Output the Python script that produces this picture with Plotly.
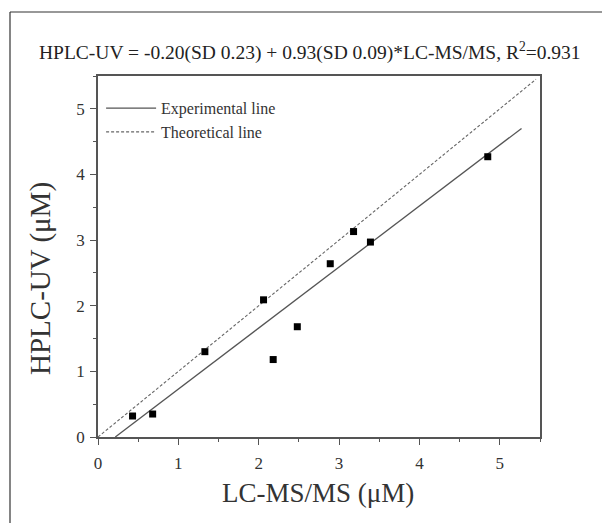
import plotly.graph_objects as go

lcms = [0.43, 0.68, 1.33, 2.06, 2.18, 2.48, 2.89, 3.18, 3.39, 4.85]
hplc = [0.32, 0.35, 1.30, 2.09, 1.18, 1.68, 2.64, 3.13, 2.97, 4.27]
intercept = -0.20
slope = 0.93
fit_x = [-intercept / slope, 5.27]
theo_x = [0.0, 5.45]

fit_y = [intercept + slope * v for v in fit_x]
theo_y = list(theo_x)

FONT = "Liberation Serif, Times New Roman, serif"
AX = "#555555"

fig = go.Figure()
fig.add_trace(go.Scatter(x=fit_x, y=fit_y, mode="lines", name="Experimental line",
                         line=dict(color="#555555", width=1.3)))
fig.add_trace(go.Scatter(x=theo_x, y=theo_y, mode="lines", name="Theoretical line",
                         line=dict(color="#666666", width=1.1, dash="3px,2px")))
fig.add_trace(go.Scatter(x=lcms, y=hplc, mode="markers", showlegend=False,
                         marker=dict(symbol="square", size=7, color="black")))

axis_common = dict(
    showgrid=False, zeroline=False, showline=True, linecolor=AX, linewidth=1.5,
    mirror=True, ticks="outside", ticklen=6, tickwidth=1.3, tickcolor=AX,
    tickfont=dict(family=FONT, size=17, color="#333333"), automargin=False,
    minor=dict(dtick=0.5, ticks="outside", ticklen=3, tickwidth=1.2, tickcolor=AX),
)

PW, PH = 442, 361
L, T = 90, 68

fig.update_layout(
    width=610, height=523,
    margin=dict(l=L, r=610 - L - PW, t=T, b=523 - T - PH),
    paper_bgcolor="white", plot_bgcolor="white",
    font=dict(family=FONT, color="#222222"),
    xaxis=dict(range=[0, 5.5], dtick=1, tick0=0, ticklabelstandoff=4, **axis_common),
    yaxis=dict(range=[0, 5.5], dtick=1, tick0=0, ticklabelstandoff=2, **axis_common),
    legend=dict(x=0.007, y=0.958, xanchor="left", yanchor="top", bgcolor="rgba(0,0,0,0)",
                font=dict(family=FONT, size=16, color="#333333"), itemwidth=50, tracegroupgap=0),
    showlegend=True,
    annotations=[
        dict(text="HPLC-UV = -0.20(SD 0.23) + 0.93(SD 0.09)*LC-MS/MS, R<sup>2</sup>=0.931",
             xref="paper", yref="paper", x=(302 - L) / PW, y=1 + (T - 44) / PH,
             xanchor="center", yanchor="middle", showarrow=False,
             font=dict(family=FONT, size=19.5, color="#222222")),
        dict(text="LC-MS/MS (\u03bcM)", xref="paper", yref="paper",
             x=(310 - L) / PW, y=-(485 - T - PH) / PH, xanchor="center", yanchor="middle",
             showarrow=False, font=dict(family=FONT, size=27, color="#333333")),
        dict(text="HPLC-UV (\u03bcM)", xref="paper", yref="paper", textangle=-90,
             x=(32 - L) / PW, y=1 - (271 - T) / PH, xanchor="center", yanchor="middle",
             showarrow=False, font=dict(family=FONT, size=29, color="#333333")),
    ],
    shapes=[
        dict(type="line", xref="paper", yref="paper", x0=(2 - L) / PW, x1=1.3,
             y0=1 + (T - 4) / PH, y1=1 + (T - 4) / PH, line=dict(color="#333333", width=1.2)),
        dict(type="line", xref="paper", yref="paper", x0=(2 - L) / PW, x1=(2 - L) / PW,
             y0=1 + (T - 4) / PH, y1=-0.4, line=dict(color="#333333", width=1.2)),
    ],
)

fig.write_html("out.html")
